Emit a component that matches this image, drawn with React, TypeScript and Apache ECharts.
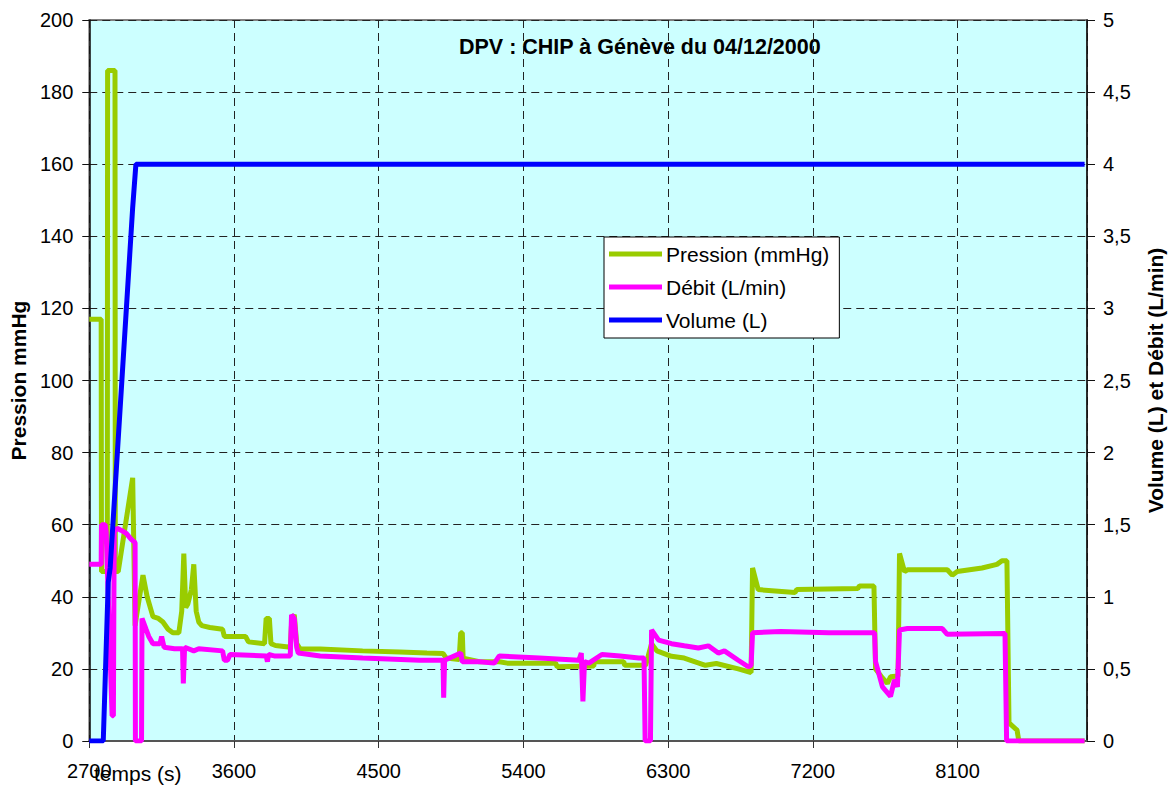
import React, { useEffect, useRef } from "react";
import * as echarts from "echarts";

const titleText = "DPV : CHIP à Génève du 04/12/2000";
const xAxisName = "temps (s)";
const leftAxisName = "Pression mmHg";
const rightAxisName = "Volume (L) et Débit (L/min)";
const seriesNames = ["Pression (mmHg)", "Débit (L/min)", "Volume (L)"];

// [time (s), pression (mmHg)]
const pression: [number, number][] = [
  [2700, 117], [2774, 117], [2776, 47], [2812, 47], [2814, 186], [2860, 186], [2862, 47],
  [2880, 47], [2970, 73], [2985, 32], [2995, 35], [3034, 46], [3060, 40], [3096, 34.5],
  [3130, 34], [3158, 33], [3190, 31], [3220, 30], [3257, 30], [3275, 36], [3288, 52],
  [3300, 37], [3313, 38], [3335, 42], [3350, 49], [3365, 36], [3381, 33], [3400, 32],
  [3450, 31.5], [3529, 31], [3540, 29], [3672, 29], [3690, 27.5], [3790, 27], [3800, 34],
  [3820, 34], [3830, 27], [3858, 26.5], [3950, 26], [3960, 34], [3975, 35], [3990, 27],
  [4012, 25.5], [4136, 25.5], [4400, 25], [4631, 24.7], [4800, 24.4], [4900, 24.3],
  [4920, 23], [5000, 22.6], [5010, 30], [5020, 30], [5025, 23], [5126, 22], [5250, 22],
  [5300, 21.6], [5600, 21.6], [5610, 20.6], [5838, 20.8], [5840, 22], [6024, 22],
  [6030, 21], [6160, 21], [6197, 27], [6230, 25], [6321, 23.5], [6400, 23], [6532, 21],
  [6600, 21.5], [6736, 20], [6816, 19], [6825, 48], [6860, 42], [7089, 41.2], [7100, 42],
  [7479, 42.3], [7490, 43], [7580, 43], [7590, 20], [7633, 17.5], [7664, 16], [7683, 17.8],
  [7730, 18], [7739, 52], [7770, 47], [7788, 47.5], [8036, 47.5], [8067, 46], [8098, 47],
  [8252, 48], [8345, 49], [8376, 50], [8407, 50], [8420, 5], [8470, 3], [8481, 0], [8890, 0],
];

// [time (s), débit (L/min)]
const debit: [number, number][] = [
  [2700, 1.225], [2774, 1.225], [2776, 1.5], [2799, 1.5], [2805, 1.45], [2842, 0.175],
  [2850, 0.175], [2855, 1.45], [2873, 1.475], [2900, 1.46], [2930, 1.44], [2960, 1.4],
  [2985, 1.375], [2987, 0], [3025, 0], [3028, 0.85], [3053, 0.775], [3070, 0.725],
  [3096, 0.675], [3140, 0.675], [3150, 0.725], [3165, 0.65], [3230, 0.64], [3280, 0.64],
  [3285, 0.4], [3293, 0.65], [3350, 0.625], [3381, 0.64], [3529, 0.625], [3540, 0.56],
  [3560, 0.56], [3575, 0.6], [3800, 0.59], [3808, 0.55], [3815, 0.6], [3850, 0.59],
  [3950, 0.59], [3958, 0.875], [3975, 0.85], [3990, 0.65], [4000, 0.61], [4136, 0.59],
  [4400, 0.575], [4755, 0.56], [4900, 0.56], [4904, 0.3], [4910, 0.56], [5010, 0.61],
  [5020, 0.55], [5126, 0.55], [5219, 0.54], [5250, 0.59], [5500, 0.575], [5745, 0.56],
  [5760, 0.61], [5770, 0.275], [5780, 0.55], [5807, 0.54], [5888, 0.6], [6000, 0.59],
  [6117, 0.575], [6150, 0.575], [6157, 0], [6190, 0], [6197, 0.77], [6241, 0.7],
  [6321, 0.675], [6400, 0.66], [6488, 0.645], [6550, 0.66], [6612, 0.61], [6650, 0.625],
  [6736, 0.56], [6798, 0.515], [6816, 0.525], [6825, 0.75], [7000, 0.76], [7300, 0.75],
  [7584, 0.75], [7590, 0.55], [7633, 0.375], [7683, 0.31], [7708, 0.425], [7726, 0.375],
  [7739, 0.77], [7788, 0.78], [8005, 0.78], [8036, 0.74], [8395, 0.745], [8405, 0], [8890, 0],
];

// [time (s), volume (L)]
const volume: [number, number][] = [
  [2700, 0], [2787, 0], [2818, 1.1], [2830, 1.2], [2970, 3.7], [2990, 4], [8890, 4],
];

const xMin = 2700;
const xMax = 8905;
const xInterval = 900;
const leftMax = 200;
const leftInterval = 20;
const rightMax = 5;
const rightInterval = 0.5;

const colors = ["#99CC00", "#FF00FF", "#0000FF"];
const FONT = "'Liberation Sans', Arial, sans-serif";

export default function App() {
  const ref = useRef<HTMLDivElement>(null);
  useEffect(() => {
    if (!ref.current) return;
    const chart = echarts.init(ref.current, undefined, { renderer: "svg" });
    const dash = { color: "#222", type: [8, 5] as any, width: 1 };
    chart.setOption({
      animation: false,
      textStyle: { fontFamily: FONT },
      grid: {
        left: 88, top: 20, right: 83, bottom: 50,
        show: true, backgroundColor: "#CCFFFF", borderColor: "#808080", borderWidth: 2,
      },
      legend: {
        orient: "vertical",
        left: 604, top: 237,
        padding: [6, 10, 7, 5],
        backgroundColor: "#FFFFFF",
        borderColor: "#000000",
        borderWidth: 1,
        itemWidth: 53, itemHeight: 5, itemGap: 11,
        icon: "rect",
        textStyle: { fontSize: 21, color: "#000", fontFamily: FONT, lineHeight: 22, padding: [0, 0, 0, -1] },
        data: seriesNames,
      },
      graphic: [
        { type: "text", left: 459, top: 36, style: { text: titleText, font: `bold 21.5px ${FONT}`, fill: "#000" } },
        { type: "text", left: 94, top: 763, style: { text: xAxisName, font: `21px ${FONT}`, fill: "#000" } },
      ],
      xAxis: {
        type: "value", min: xMin, max: xMax, interval: xInterval,
        axisLine: { show: true, lineStyle: { color: "#555", width: 2 } },
        axisTick: { show: true, length: 7, lineStyle: { color: "#333" } },
        axisLabel: {
          fontSize: 20, color: "#000", margin: 20, showMaxLabel: false, fontFamily: FONT,
          formatter: (v: number) => String(v),
        },
        splitLine: { show: true, lineStyle: dash },
      },
      yAxis: [
        {
          type: "value", min: 0, max: leftMax, interval: leftInterval, position: "left",
          name: leftAxisName, nameLocation: "middle", nameGap: 58, nameRotate: 90,
          nameTextStyle: { fontSize: 21, fontWeight: "bold", color: "#000", fontFamily: FONT },
          axisLine: { show: true, lineStyle: { color: "#111", width: 1.5 } },
          axisTick: { show: true, length: 7, lineStyle: { color: "#111" } },
          axisLabel: { fontSize: 20, color: "#000", margin: 16, fontFamily: FONT },
          splitLine: { show: true, lineStyle: dash },
        },
        {
          type: "value", min: 0, max: rightMax, interval: rightInterval, position: "right",
          name: rightAxisName, nameLocation: "middle", nameGap: 58, nameRotate: 90,
          nameTextStyle: { fontSize: 21, fontWeight: "bold", color: "#000", fontFamily: FONT },
          axisLine: { show: true, lineStyle: { color: "#111", width: 1.5 } },
          axisTick: { show: true, length: 8, lineStyle: { color: "#111" } },
          axisLabel: {
            fontSize: 20, color: "#000", margin: 16, fontFamily: FONT,
            formatter: (v: number) => String(v).replace(".", ","),
          },
          splitLine: { show: false },
        },
      ],
      series: [
        {
          name: seriesNames[0], type: "line", yAxisIndex: 0, data: pression,
          showSymbol: false, symbol: "none", color: colors[0],
          lineStyle: { width: 5, color: colors[0] }, z: 2,
        },
        {
          name: seriesNames[1], type: "line", yAxisIndex: 1, data: debit,
          showSymbol: false, symbol: "none", color: colors[1],
          lineStyle: { width: 5, color: colors[1] }, z: 3,
        },
        {
          name: seriesNames[2], type: "line", yAxisIndex: 1, data: volume,
          showSymbol: false, symbol: "none", color: colors[2],
          lineStyle: { width: 5, color: colors[2] }, z: 4,
        },
      ],
    });
    return () => chart.dispose();
  }, []);
  return (
    <div
      ref={ref}
      style={{ position: "fixed", left: 0, top: 0, width: 1174, height: 791, background: "#fff" }}
    />
  );
}
